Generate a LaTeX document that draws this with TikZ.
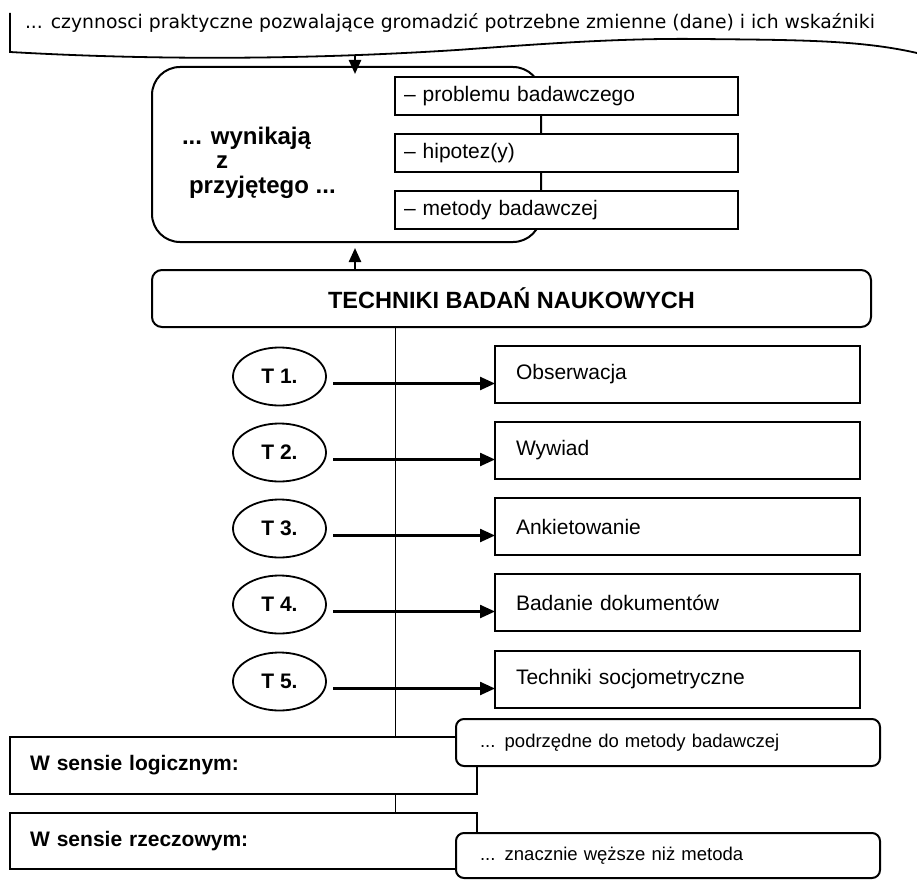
\documentclass[tikz,border=0pt]{standalone}
\usepackage{fontspec}
\setmainfont{Liberation Sans}
\newfontfamily\bannerfont{DejaVu Sans}
\usetikzlibrary{arrows.meta,calc,shapes.geometric}

\begin{document}
\begin{tikzpicture}[x=1pt,y=-1pt,
  every node/.style={inner sep=0pt,outer sep=0pt},
  frame/.style={draw,line width=2pt,fill=white},
  thinline/.style={line width=1pt},
  itembox/.style={frame,rectangle,anchor=north west,minimum width=343pt,
    minimum height=38pt,text width=325pt,inner xsep=9pt,align=left,
    font=\fontsize{21}{25}\selectfont},
  techbox/.style={frame,rectangle,anchor=north west,minimum width=365pt,
    minimum height=57pt,text width=323pt,inner xsep=21pt,align=left,
    font=\fontsize{21}{25}\selectfont},
  techoval/.style={draw,line width=1.8pt,ellipse,minimum width=93pt,
    minimum height=58pt,font=\bfseries\fontsize{21}{25}\selectfont},
  sensebox/.style={frame,rectangle,anchor=north west,minimum width=467pt,
    text width=427pt,inner xsep=20pt,align=left,
    font=\bfseries\fontsize{21}{25}\selectfont},
  notebox/.style={frame,rectangle,rounded corners=8pt,anchor=north west,
    minimum width=424pt,text width=376pt,inner xsep=24pt,align=left,
    font=\fontsize{18.5}{22}\selectfont},
  arrV/.style={line width=2.4pt,-{Triangle[length=14pt,width=12pt]}},
  arrH/.style={line width=2.4pt,-{Triangle[length=15pt,width=13pt]}}
]
\useasboundingbox[fill=white] (0,0) rectangle (917,880);

% banner with wavy lower edge
\draw[line width=1.8pt] (10,13) -- (10,52)
  .. controls (150,60) and (300,60) .. (457,50)
  .. controls (540,44) and (620,38) .. (700,39)
  .. controls (800,40) and (860,40) .. (917,53);
\node[anchor=west,font=\bannerfont\fontsize{18.8}{22}\selectfont] (banner) at (25,23)
  {... czynnosci praktyczne pozwalające gromadzić potrzebne zmienne (dane) i ich wskaźniki};
\coordinate (wv) at (355,55);

% rounded frame with the three sources
\node[frame,rounded corners=28pt,anchor=north west,minimum width=389pt,
  minimum height=175pt] (wyn) at (152,67) {};
\node[anchor=north west,align=left,font=\bfseries\fontsize{24}{24.5}\selectfont]
  (wyntext) at (182,127)
  {... wynikają\\\hspace*{34pt}z\\\hspace*{7pt}przyjętego ...};

\node[itembox] (s1) at (395,77) {– problemu badawczego};
\node[itembox] (s2) at (395,134) {– hipotez(y)};
\node[itembox] (s3) at (395,191) {– metody badawczej};

\draw[arrV] (wv) -- ($(wyn.north -| wv)+(0,7)$);

% techniques
\node[frame,rounded corners=10pt,anchor=north west,minimum width=719pt,
  minimum height=57pt,font=\bfseries\fontsize{23.5}{28}\selectfont]
  (tech) at (152,270) {TECHNIKI BADAŃ NAUKOWYCH};
\draw[arrV] (tech.north -| wv) -- ($(wyn.south -| wv)+(0,6)$);

\node[techbox] (b1) at (495,346) {Obserwacja};
\node[techbox] (b2) at (495,422) {Wywiad};
\node[techbox] (b3) at (495,498) {Ankietowanie};
\node[techbox] (b4) at (495,574) {Badanie dokumentów};
\node[techbox] (b5) at (495,651) {Techniki socjometryczne};

\node[techoval] (t1) at (279.5,376.5) {T 1.};
\node[techoval] (t2) at (279.5,452.5) {T 2.};
\node[techoval] (t3) at (279.5,528.5) {T 3.};
\node[techoval] (t4) at (279.5,604.5) {T 4.};
\node[techoval] (t5) at (279.5,681.5) {T 5.};

% the two senses
\node[sensebox,minimum height=57pt] (wlog) at (10,737) {W sensie logicznym:};
\node[sensebox,minimum height=56pt] (wrz) at (10,813) {W sensie rzeczowym:};
\coordinate (vx) at (395,0);
\draw[thinline] (tech.south -| vx) -- (wlog.north -| vx);
\draw[thinline] (wlog.south -| vx) -- (wrz.north -| vx);

\node[notebox,minimum height=47pt] (np) at (456,719) {... podrzędne do metody badawczej};
\node[notebox,minimum height=45pt] (nz) at (456,833) {... znacznie węższe niż metoda};

\foreach \i in {1,...,5} {
  \coordinate (a\i) at ($(t\i.east)+(7,7)$);
  \draw[arrH] (a\i) -- (a\i -| b\i.west);
}
\end{tikzpicture}
\end{document}
